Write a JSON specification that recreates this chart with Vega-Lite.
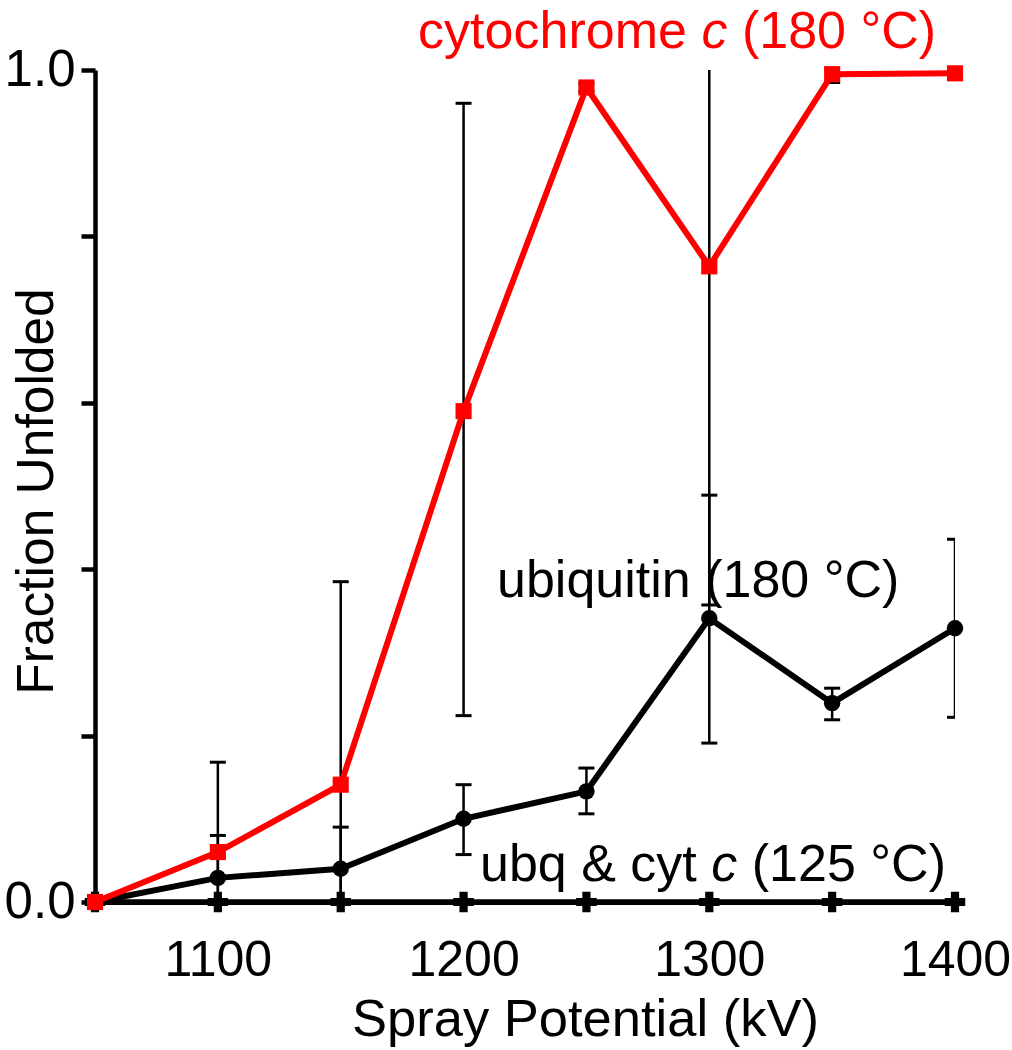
{
  "$schema": "https://vega.github.io/schema/vega-lite/v6.json",
  "width": 860,
  "height": 832,
  "autosize": {"type": "none"},
  "padding": {"left": 95, "top": 70, "right": 57, "bottom": 148},
  "background": "white",
  "config": {
    "view": {"stroke": null},
    "font": "Liberation Sans",
    "axis": {"grid": false, "domainColor": "black", "labelColor": "black", "titleColor": "black", "labelFont": "Liberation Sans", "titleFont": "Liberation Sans", "titleFontWeight": "normal"}
  },
  "datasets": {
    "cyt180": [
      {"series": "cyt180", "kV": 1050, "v": 0, "lo": 0, "hi": 0},
      {"series": "cyt180", "kV": 1100, "v": 0.060, "lo": -0.046, "hi": 0.168},
      {"series": "cyt180", "kV": 1150, "v": 0.141, "lo": -0.103, "hi": 0.385},
      {"series": "cyt180", "kV": 1200, "v": 0.590, "lo": 0.224, "hi": 0.960},
      {"series": "cyt180", "kV": 1250, "v": 0.979, "lo": 0.974, "hi": 0.984},
      {"series": "cyt180", "kV": 1300, "v": 0.764, "lo": 0.357, "hi": 1.171},
      {"series": "cyt180", "kV": 1350, "v": 0.995, "lo": 0.985, "hi": 1.005},
      {"series": "cyt180", "kV": 1400, "v": 0.996, "lo": 0.992, "hi": 1.000}
    ],
    "ubq180": [
      {"series": "ubq180", "kV": 1050, "v": 0, "lo": 0, "hi": 0},
      {"series": "ubq180", "kV": 1100, "v": 0.029, "lo": -0.022, "hi": 0.080},
      {"series": "ubq180", "kV": 1150, "v": 0.040, "lo": -0.010, "hi": 0.090},
      {"series": "ubq180", "kV": 1200, "v": 0.100, "lo": 0.057, "hi": 0.141},
      {"series": "ubq180", "kV": 1250, "v": 0.133, "lo": 0.106, "hi": 0.161},
      {"series": "ubq180", "kV": 1300, "v": 0.341, "lo": 0.191, "hi": 0.489},
      {"series": "ubq180", "kV": 1350, "v": 0.239, "lo": 0.219, "hi": 0.257},
      {"series": "ubq180", "kV": 1400, "v": 0.329, "lo": 0.222, "hi": 0.436}
    ],
    "both125": [
      {"series": "both125", "kV": 1050, "v": 0},
      {"series": "both125", "kV": 1100, "v": 0},
      {"series": "both125", "kV": 1150, "v": 0},
      {"series": "both125", "kV": 1200, "v": 0},
      {"series": "both125", "kV": 1250, "v": 0},
      {"series": "both125", "kV": 1300, "v": 0},
      {"series": "both125", "kV": 1350, "v": 0},
      {"series": "both125", "kV": 1400, "v": 0}
    ],
    "notes": [
      {"series": "cyt180", "part": "regular", "text": "cytochrome", "kV": 1181.5, "v": 1.0264},
      {"series": "cyt180", "part": "italic", "text": "c", "kV": 1296.8, "v": 1.0264},
      {"series": "cyt180", "part": "regular", "text": "(180 °C)", "kV": 1313.3, "v": 1.0264},
      {"series": "ubq180", "part": "regular", "text": "ubiquitin (180 °C)", "kV": 1213.6, "v": 0.3666},
      {"series": "both125", "part": "regular", "text": "ubq & cyt", "kV": 1206.7, "v": 0.0252},
      {"series": "both125", "part": "italic", "text": "c", "kV": 1300.8, "v": 0.0252},
      {"series": "both125", "part": "regular", "text": "(125 °C)", "kV": 1317.3, "v": 0.0252}
    ]
  },
  "encoding": {
    "x": {"field": "kV", "type": "quantitative", "scale": {"domain": [1050, 1400], "nice": false, "zero": false},
      "axis": {"values": [1100, 1200, 1300, 1400], "format": "d", "ticks": false, "labelFlush": false, "labelOverlap": false, "labelFontSize": 50, "labelPadding": 33, "domainWidth": 5, "title": "Spray Potential (kV)", "titleFontSize": 52.5, "titleX": 490, "titleY": 133, "titleBaseline": "alphabetic", "titleAlign": "center"}},
    "y": {"field": "v", "type": "quantitative", "scale": {"domain": [0, 1], "nice": false},
      "axis": {"values": [0, 0.2, 0.4, 0.6, 0.8, 1], "labelExpr": "datum.value == 0 || datum.value == 1 ? format(datum.value, '.1f') : ''", "labelFlush": false, "tickSize": 14, "tickWidth": 4.5, "tickColor": "black", "domainWidth": 4.5, "labelFontSize": 51, "labelPadding": 6, "labelBaseline": "middle", "title": "Fraction Unfolded", "titleFontSize": 51.5, "titleX": -43, "titleY": 421, "titleAngle": -90, "titleBaseline": "alphabetic", "titleAlign": "center"}},
    "color": {"field": "series", "type": "nominal", "scale": {"domain": ["cyt180", "ubq180", "both125"], "range": ["#ff0000", "#000000", "#000000"]}, "legend": null}
  },
  "layer": [
    {"data": {"name": "cyt180"}, "transform": [{"filter": "datum.hi > datum.lo"}], "mark": {"type": "rule", "clip": true, "strokeWidth": 2.5, "color": "black"}, "encoding": {"y": {"field": "lo", "type": "quantitative"}, "y2": {"field": "hi"}, "color": {"value": "black"}}},
    {"data": {"name": "cyt180"}, "transform": [{"filter": "datum.hi > datum.lo"}], "mark": {"type": "tick", "clip": true, "orient": "horizontal", "size": 16, "thickness": 3, "color": "black", "opacity": 1}, "encoding": {"y": {"field": "lo", "type": "quantitative"}, "color": {"value": "black"}}},
    {"data": {"name": "cyt180"}, "transform": [{"filter": "datum.hi > datum.lo"}], "mark": {"type": "tick", "clip": true, "orient": "horizontal", "size": 16, "thickness": 3, "color": "black", "opacity": 1}, "encoding": {"y": {"field": "hi", "type": "quantitative"}, "color": {"value": "black"}}},
    {"data": {"name": "ubq180"}, "transform": [{"filter": "datum.hi > datum.lo"}], "mark": {"type": "rule", "clip": true, "strokeWidth": 2.5, "color": "black"}, "encoding": {"y": {"field": "lo", "type": "quantitative"}, "y2": {"field": "hi"}, "color": {"value": "black"}}},
    {"data": {"name": "ubq180"}, "transform": [{"filter": "datum.hi > datum.lo"}], "mark": {"type": "tick", "clip": true, "orient": "horizontal", "size": 16, "thickness": 3, "color": "black", "opacity": 1}, "encoding": {"y": {"field": "lo", "type": "quantitative"}, "color": {"value": "black"}}},
    {"data": {"name": "ubq180"}, "transform": [{"filter": "datum.hi > datum.lo"}], "mark": {"type": "tick", "clip": true, "orient": "horizontal", "size": 16, "thickness": 3, "color": "black", "opacity": 1}, "encoding": {"y": {"field": "hi", "type": "quantitative"}, "color": {"value": "black"}}},
    {"data": {"name": "both125"}, "mark": {"type": "line", "strokeWidth": 5.5}},
    {"data": {"name": "both125"}, "mark": {"type": "point", "shape": "cross", "filled": true, "size": 420, "opacity": 1}},
    {"data": {"name": "ubq180"}, "mark": {"type": "line", "strokeWidth": 6}},
    {"data": {"name": "ubq180"}, "mark": {"type": "point", "shape": "circle", "filled": true, "size": 270, "opacity": 1}},
    {"data": {"name": "cyt180"}, "mark": {"type": "line", "strokeWidth": 6}},
    {"data": {"name": "cyt180"}, "mark": {"type": "point", "shape": "square", "filled": true, "size": 260, "opacity": 1}},
    {"data": {"name": "notes"}, "transform": [{"filter": "datum.part == 'regular'"}], "mark": {"type": "text", "align": "left", "baseline": "alphabetic", "fontSize": 52, "font": "Liberation Sans"}, "encoding": {"text": {"field": "text"}}},
    {"data": {"name": "notes"}, "transform": [{"filter": "datum.part == 'italic'"}], "mark": {"type": "text", "align": "left", "baseline": "alphabetic", "fontSize": 52, "font": "Liberation Sans", "fontStyle": "italic"}, "encoding": {"text": {"field": "text"}}}
  ]
}
